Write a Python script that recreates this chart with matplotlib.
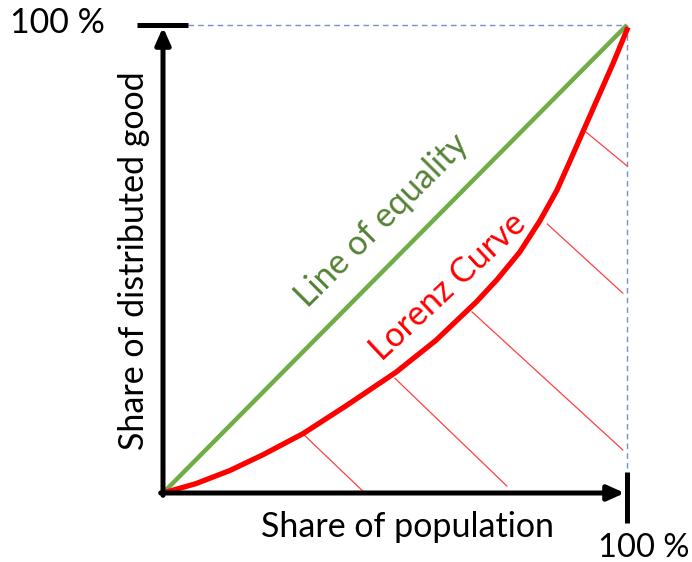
import matplotlib
matplotlib.use('Agg')
import matplotlib.pyplot as plt

plt.rcParams['font.family'] = ['Lato', 'DejaVu Sans']

# Lorenz curve (share of population, share of good)
pop_share = [0.0, 0.071, 0.144, 0.216, 0.302, 0.394, 0.502, 0.588, 0.675, 0.720,
             0.769, 0.8125, 0.849, 0.877, 0.905, 0.9375, 0.970, 1.0]
good_share = [0.0, 0.020, 0.048, 0.082, 0.127, 0.186, 0.258, 0.326, 0.408, 0.456,
              0.515, 0.582, 0.647, 0.709, 0.772, 0.845, 0.918, 0.99]

# line of equality
eq_x = [0.0, 1.0]
eq_y = [0.0, 1.0]

# hatch strokes under the curve: start (on curve) and end points
hatch_x0 = [0.302, 0.500, 0.666, 0.828, 0.912]
hatch_y0 = [0.126, 0.245, 0.387, 0.575, 0.771]
hatch_x1 = [0.435, 0.741, 0.991, 0.991, 1.000]
hatch_y1 = [0.000, 0.015, 0.092, 0.427, 0.699]

fig = plt.figure(figsize=(6.92, 5.62), dpi=100)
ax = fig.add_axes([163 / 692, 69 / 562, 464 / 692, 468 / 562])
ax.set_xlim(0, 1)
ax.set_ylim(0, 1)
ax.axis('off')

# dashed guide lines
ax.plot([0.054, 1.0], [1.0, 1.0], color='#6f92d2', lw=1, ls=(0, (4, 3)), clip_on=False)
ax.plot([1.0, 1.0], [1.0, 0.045], color='#6f92d2', lw=1, ls=(0, (4, 3)), clip_on=False)

for a, b, c, d in zip(hatch_x0, hatch_y0, hatch_x1, hatch_y1):
    ax.plot([a, c], [b, d], color='#ff4040', lw=0.9, clip_on=False)

ax.plot(eq_x, eq_y, color='#70ad47', lw=3.2, clip_on=False, solid_capstyle='butt')
ax.plot(pop_share, good_share, color='#ff0000', lw=3.8, clip_on=False,
        solid_joinstyle='round')

# axes arrows
arrow = dict(arrowstyle='-|>,head_length=1.0,head_width=0.45', color='black', lw=3.6,
             shrinkA=0, shrinkB=0)
ax.annotate('', xy=(0, 0.995), xytext=(0, -0.005), arrowprops=arrow, annotation_clip=False)
ax.annotate('', xy=(0.995, 0), xytext=(-0.005, 0), arrowprops=arrow, annotation_clip=False)
ax.plot([-0.056, 0.054], [1.0, 1.0], color='black', lw=3.6, clip_on=False, solid_capstyle='butt')
ax.plot([1.0, 1.0], [0.045, -0.064], color='black', lw=3.6, clip_on=False, solid_capstyle='butt')

# labels
fs = 24.5
ax.text(-0.228, 1.005, '100 %', fontsize=fs, ha='center', va='center', clip_on=False)
ax.text(1.035, -0.118, '100 %', fontsize=23.5, ha='center', va='center', clip_on=False)
ax.text(0.528, -0.072, 'Share of population', fontsize=fs, ha='center', va='center')
ax.text(-0.062, 0.497, 'Share of distributed good', fontsize=fs, rotation=90,
        ha='center', va='center')
ax.text(0.472, 0.582, 'Line of equality', fontsize=fs, color='#548235', rotation=45,
        ha='center', va='center', rotation_mode='anchor')
ax.text(0.614, 0.44, 'Lorenz Curve', fontsize=fs, color='#ff0000', rotation=43,
        ha='center', va='center', rotation_mode='anchor')

fig.savefig('out.png', dpi=100)
